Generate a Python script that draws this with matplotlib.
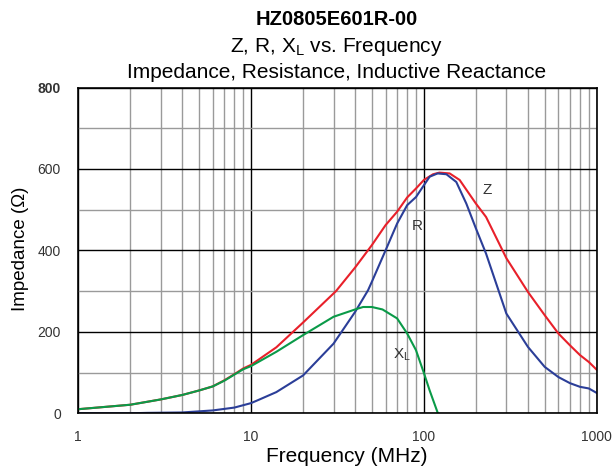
import numpy as np
import matplotlib.pyplot as plt
from matplotlib.ticker import FixedLocator, NullFormatter

# values (frequency in MHz, impedance in ohm)
z_freq = [1, 2, 3, 4, 5, 6, 7, 8, 9, 10, 14, 20, 31, 40, 50, 60, 70, 80, 90,
          100, 113, 123, 141, 161, 200, 229, 300, 400, 500, 600, 700, 800, 900, 1000]
z_vals = [10, 21, 34, 45, 56, 66, 81, 96, 110, 119, 162, 223, 300, 358, 413, 462, 495, 530, 552,
          573, 587, 591, 589, 573, 515, 482, 381, 298, 241, 196, 167, 143, 126, 107]

r_freq = [1, 2, 2.5, 4, 6, 8, 10, 11.2, 14, 20, 30, 40, 47.5, 50, 60, 70, 80, 90,
          100, 108, 120, 135, 154, 176, 200, 229, 300, 400, 500, 600, 700, 800, 900, 1000]
r_vals = [0, 0, 1, 2, 7, 14, 25, 34, 52, 93, 171, 249, 302, 323, 400, 466, 511, 531,
          560, 581, 589, 587, 568, 515, 454, 392, 245, 163, 114, 89, 74, 65, 61, 50]

xl_freq = [1, 2, 3, 4, 5, 6, 7, 8, 9, 10, 14, 20, 30, 40, 44.5, 50, 57.6, 70, 80, 90,
           100, 108, 120.5]
xl_vals = [10, 21, 34, 45, 56, 66, 80, 95, 108, 116, 151, 192, 237, 255, 261, 261, 255, 233, 196, 155,
           99, 56, 0]

x_ticks = [1, 10, 100, 1000]
y_ticks = [0, 200, 400, 600, 800]

plt.rcParams['font.family'] = ['Liberation Sans', 'DejaVu Sans']
plt.rcParams['mathtext.fontset'] = 'custom'
plt.rcParams['mathtext.rm'] = 'Liberation Sans'

fig = plt.figure(figsize=(6.13, 4.69), dpi=100)
ax = fig.add_axes([0.1277, 0.1188, 0.9734 - 0.1277, 0.8134 - 0.1188])

ax.set_xscale('log')
ax.set_xlim(1, 1000)
ax.set_ylim(0, 800)

# grid: black majors, grey minors
minor_x = [m * d for d in (1, 10, 100) for m in range(2, 10)]
ax.xaxis.set_minor_locator(FixedLocator(minor_x))
ax.xaxis.set_minor_formatter(NullFormatter())
ax.set_xticks(x_ticks)
ax.set_xticklabels([str(t) for t in x_ticks])
ax.set_yticks(y_ticks)
ax.yaxis.set_minor_locator(FixedLocator([100, 300, 500, 700]))
ax.grid(True, which='minor', color='#9a9a9a', lw=1.0)
ax.grid(True, which='major', color='black', lw=1.0)
ax.set_axisbelow(True)
ax.tick_params(which='both', length=0)
ax.tick_params(axis='x', pad=12, labelsize=10, labelcolor='#333333')
ax.tick_params(axis='y', pad=12.5, labelsize=10, labelcolor='#333333')
for lbl in ax.get_yticklabels():
    if lbl.get_text() == '800':
        lbl.set_fontweight('bold')
for s in ax.spines.values():
    s.set_color('black')
    s.set_linewidth(1.2)

ax.plot(z_freq, z_vals, color='#e8202a', lw=1.5)
ax.plot(r_freq, r_vals, color='#2b3e98', lw=1.5)
ax.plot(xl_freq, xl_vals, color='#0a9a48', lw=1.5)

ax.text(219, 538, 'Z', fontsize=11, color='#333333', ha='left', va='baseline')
ax.text(84.6, 450, 'R', fontsize=11, color='#333333', ha='left', va='baseline')
ax.text(66.2, 135, r'X$_\mathregular{L}$', fontsize=11, color='#333333', ha='left', va='baseline')

ax.set_xlabel('Frequency (MHz)', fontsize=15, va='baseline')
ax.xaxis.set_label_coords(0.517, -0.1486)
ax.set_ylabel('Impedance (\u03a9)', fontsize=13.5)
ax.yaxis.set_label_coords(-0.095, 0.506)

fig.text(0.549, 0.9467, 'HZ0805E601R-00', fontsize=14.5, fontweight='bold', ha='center', va='baseline')
fig.text(0.549, 0.8891, r'Z, R, X$_\mathregular{L}$ vs. Frequency', fontsize=15, ha='center', va='baseline')
fig.text(0.549, 0.8337, 'Impedance, Resistance, Inductive Reactance', fontsize=15, ha='center', va='baseline')

fig.savefig('out.png', dpi=100)
